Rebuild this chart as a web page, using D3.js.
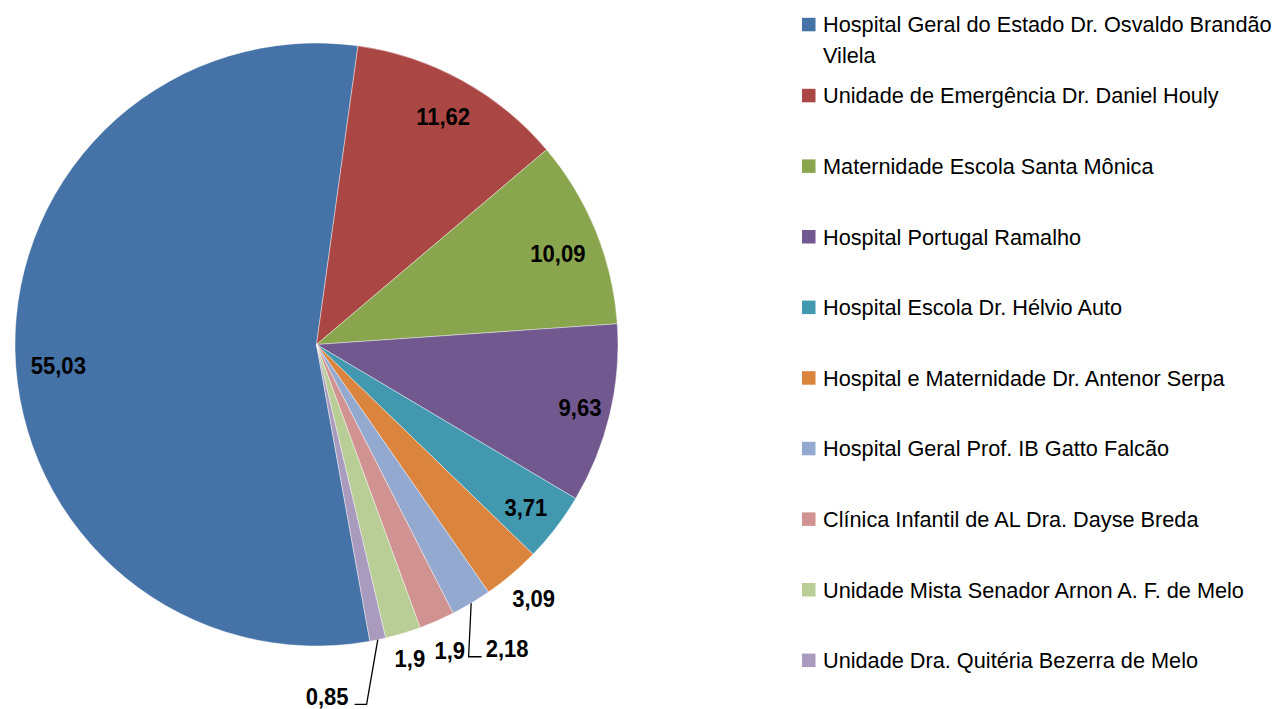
<!DOCTYPE html>
<html>
<head>
<meta charset="utf-8">
<script src="https://cdn.jsdelivr.net/npm/d3@7/dist/d3.min.js"></script>
<style>
  html, body { margin: 0; padding: 0; background: #fff; }
  svg { display: block; font-family: "Liberation Sans", Arial, sans-serif; }
</style>
</head>
<body>
<svg id="chart" width="1278" height="709"></svg>
<script>
// ── Data ──────────────────────────────────────────────
const hospitals = [
  'Hospital Geral do Estado Dr. Osvaldo Brandão Vilela',
  'Unidade de Emergência Dr. Daniel Houly',
  'Maternidade Escola Santa Mônica',
  'Hospital Portugal Ramalho',
  'Hospital Escola Dr. Hélvio Auto',
  'Hospital e Maternidade Dr. Antenor Serpa',
  'Hospital Geral Prof. IB Gatto Falcão',
  'Clínica Infantil de AL Dra. Dayse Breda',
  'Unidade Mista Senador Arnon A. F. de Melo',
  'Unidade Dra. Quitéria Bezerra de Melo'
];
const shares = [55.03, 11.62, 10.09, 9.63, 3.71, 3.09, 2.18, 1.9, 1.9, 0.85];
const shareLabels = ['55,03', '11,62', '10,09', '9,63', '3,71', '3,09', '2,18', '1,9', '1,9', '0,85'];

// Excel 2007 palette
const colors = ['#4572A7', '#AA4643', '#89A54E', '#71588F', '#4198AF',
                '#DB843D', '#93A9CF', '#D19392', '#B9CD96', '#A99BBD'];

// label placement (radius in px, angle nudge in degrees), leader flag
const labelRadius = [259, 261, 258, 271, 265, 334, 359, 334, 327, 352];
const labelNudge  = [-3.4, 0.2, 1.4, 0.1, 0.4, -0.2, -1.2, 0.0, 0.1, 10];
const hasLeader   = [false, false, false, false, false, false, true, false, false, true];

// ── Layout ────────────────────────────────────────────
const svg = d3.select('#chart');
const cx = 316.5, cy = 344.5, R = 301.5;
const rad = Math.PI / 180;
const startDeg = 169.8;

const pie = d3.pie().sort(null).value(d => d)
  .startAngle(startDeg * rad).endAngle(startDeg * rad + 2 * Math.PI);
const arcs = pie(shares);
const arc = d3.arc().innerRadius(0).outerRadius(R);

const g = svg.append('g').attr('transform', `translate(${cx},${cy})`);

g.selectAll('path.slice')
  .data(arcs)
  .join('path')
  .attr('class', 'slice')
  .attr('d', arc)
  .attr('fill', (d, i) => colors[i])
  .attr('stroke', '#ffffff')
  .attr('stroke-opacity', 0.5)
  .attr('stroke-width', 0.8);

// ── Data labels ───────────────────────────────────────
const polar = (r, a) => [r * Math.sin(a), -r * Math.cos(a)];
const LSCALE = 0.9;

arcs.forEach((d, i) => {
  const mid = (d.startAngle + d.endAngle) / 2;
  const [lx, ly] = polar(labelRadius[i], mid + labelNudge[i] * rad);
  const lg = g.append('g').attr('transform', `translate(${lx},${ly}) scale(${LSCALE},1)`);
  const t = lg.append('text')
    .attr('text-anchor', 'middle')
    .attr('y', 8.6)
    .attr('font-size', 24.5)
    .attr('font-weight', 'bold')
    .attr('fill', '#000')
    .text(shareLabels[i]);

  if (hasLeader[i]) {
    const bb = t.node().getBBox();
    const half = bb.width * LSCALE / 2;
    const [ax, ay] = polar(R, mid);
    const yLine = ly + 8;
    const right = lx > ax;
    const end = right ? lx - half - 4 : lx + half + 6;
    const elbow = right ? end - 13 : end + 12;
    g.append('path')
      .attr('d', d3.line()([[ax, ay], [elbow, yLine], [end, yLine]]))
      .attr('fill', 'none')
      .attr('stroke', '#000')
      .attr('stroke-width', 1.3);
  }
});

// ── Legend ────────────────────────────────────────────
const legX = 802, textX = 823;
const LEG_SCALE = 0.965, legFont = 22.5;
const maxW = 458;
const firstBase = 32.3, step = 70.6, secondBase = 103.3, lineH = 31;

const leg = svg.append('g');
hospitals.forEach((name, i) => {
  const base = i === 0 ? firstBase : secondBase + step * (i - 1);
  leg.append('rect')
    .attr('x', legX).attr('y', base - 14.5)
    .attr('width', 13.5).attr('height', 13.5)
    .attr('fill', colors[i]);

  const tg = leg.append('g').attr('transform', `translate(${textX},${base}) scale(${LEG_SCALE},1)`);
  const t = tg.append('text').attr('font-size', legFont).attr('fill', '#000');
  // word wrap to legend width
  const words = name.split(' ');
  let line = [], lineNo = 0;
  let tspan = t.append('tspan').attr('x', 0).attr('y', 0);
  words.forEach(w => {
    line.push(w);
    tspan.text(line.join(' '));
    if (tspan.node().getComputedTextLength() * LEG_SCALE > maxW && line.length > 1) {
      line.pop();
      tspan.text(line.join(' '));
      line = [w];
      lineNo += 1;
      tspan = t.append('tspan').attr('x', 0).attr('y', lineNo * lineH).text(w);
    }
  });
});
</script>
</body>
</html>
